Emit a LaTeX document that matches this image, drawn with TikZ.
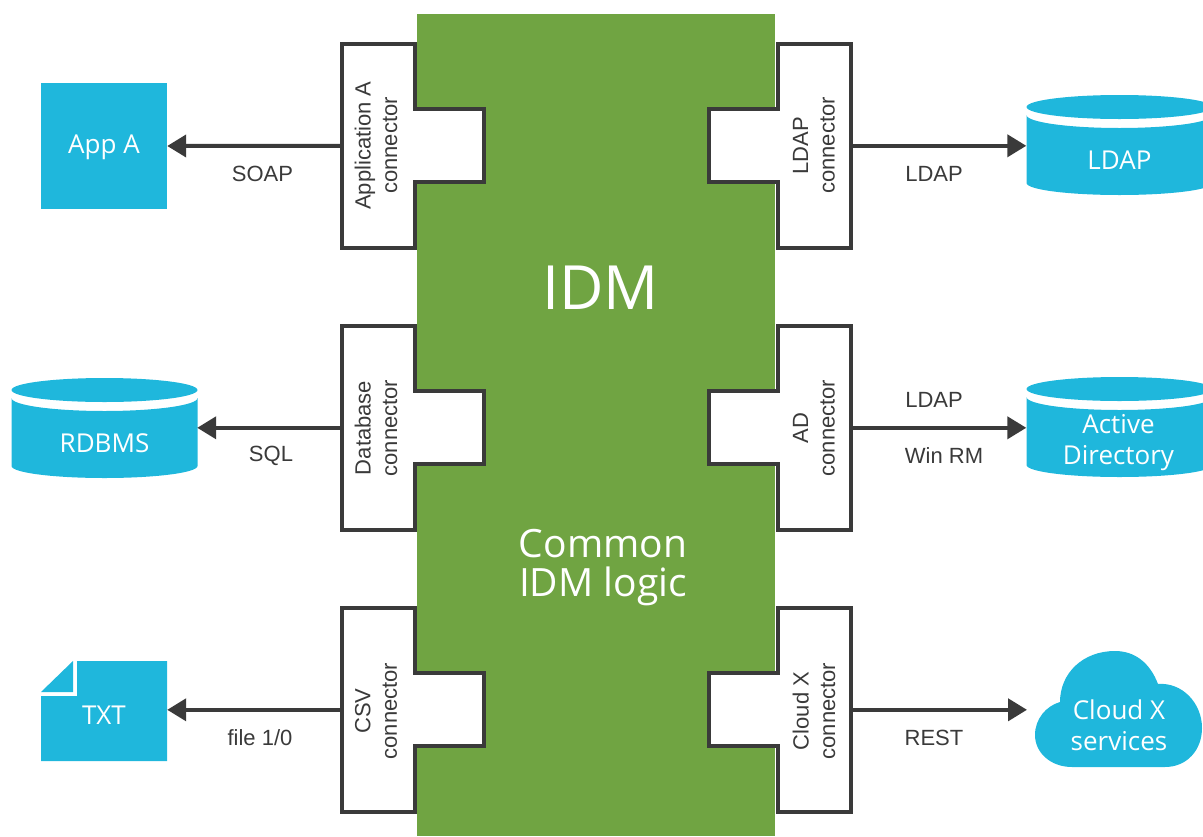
\documentclass[tikz,border=0pt]{standalone}
\usepackage{fontspec}
\setmainfont{Liberation Sans}
\newfontfamily\myr{Open Sans}
\usetikzlibrary{arrows.meta}
\definecolor{idmgreen}{HTML}{70A442}
\definecolor{idmblue}{HTML}{1FB7DC}
\definecolor{idmdark}{HTML}{3A3A3A}
\tikzset{
  x=1pt,y=-1pt,
  connbody/.style={draw=idmdark,line width=4pt,fill=white,miter limit=10},
  connanchor/.style={inner sep=0pt,minimum width=#1,minimum height=204pt},
  conntext/.style={rotate=90,align=center,font=\fontsize{22}{26.5}\selectfont,text=idmdark,inner sep=0pt},
  proto/.style={font=\fontsize{22}{26}\selectfont,text=idmdark,inner sep=0pt},
  link/.style={draw=idmdark,line width=4pt,-{Triangle[length=19pt,width=22pt]},shorten >=0pt},
  shapefill/.style={fill=idmblue,draw=none},
  shapetext/.style={text=white,align=center,font=\myr\fontsize{26}{31}\selectfont,inner sep=0pt},
  anchorbox/.style={inner sep=0pt,minimum width=#1,minimum height=100pt},
  greentext/.style={text=white,align=center,inner sep=0pt},
}
% name, side sign, outer-x, top-y
\newcommand\connshape[4]{%
  \draw[connbody,xscale=#2] (#3,#4) -- ++(73,0) -- ++(0,65.3) -- ++(69,0) -- ++(0,73) -- ++(-69,0) -- ++(0,66) -- ++(-73,0) -- cycle;
}
\newcommand\cylshape[3]{% name, cx, top
  \fill[idmblue] (#2,#3+12) ellipse[x radius=93,y radius=12];
  \fill[idmblue] (#2-93,#3+20) arc[start angle=180,end angle=360,x radius=93,y radius=-13] -- (#2+93,#3+88)
     arc[start angle=0,end angle=-180,x radius=93,y radius=-12] -- cycle;
}
\begin{document}
\begin{tikzpicture}
\useasboundingbox (0,0) rectangle (1203,836);
\clip (0,0) rectangle (1203,836);
% core
\fill[idmgreen] (417,14) rectangle (775,836);
\node[greentext,font=\myr\fontsize{61}{70}\selectfont] (idm) at (600.5,288) {IDM};
\node[greentext,font=\myr\fontsize{39}{39.5}\selectfont] (logic) at (603,567.5) {Common\\IDM logic};
% connector bodies
\connshape{a}{1}{342}{43.7}
\connshape{b}{1}{342}{325.7}
\connshape{c}{1}{342}{607.7}
\connshape{d}{-1}{-851}{43.7}
\connshape{e}{-1}{-851}{325.7}
\connshape{f}{-1}{-851}{607.7}
% connector anchors
\node[connanchor=73pt] (ca) at (378.5,145.8) {};
\node[connanchor=73pt] (cb) at (378.5,427.8) {};
\node[connanchor=73pt] (cc) at (378.5,709.8) {};
\node[connanchor=73pt] (cd) at (814.5,145.8) {};
\node[connanchor=73pt] (ce) at (814.5,427.8) {};
\node[connanchor=73pt] (cf) at (814.5,709.8) {};
% connector labels
\node[conntext] (ta) at (376,145.5) {Application A\\connector};
\node[conntext] (tb) at (376,428) {Database\\connector};
\node[conntext] (tc) at (376,711) {CSV\\connector};
\node[conntext] (td) at (814,145.5) {LDAP\\connector};
\node[conntext] (te) at (814,428) {AD\\connector};
\node[conntext] (tf) at (814,711) {Cloud X\\connector};
% App A
\node[shapefill,minimum width=126pt,minimum height=126pt,inner sep=0pt] (appa) at (104,146) {};
\node[shapetext] (appat) at (104,147.5) {App A};
% RDBMS
\cylshape{r}{104.5}{378}
\node[anchorbox=185pt] (rdbms) at (104.5,427.8) {};
\node[shapetext] (rdbmst) at (104.5,443) {RDBMS};
% TXT
\fill[idmblue] (41,692) -- (73,661) -- (73,692) -- cycle;
\fill[idmblue] (77,661) -- (167,661) -- (167,761) -- (41,761) -- (41,696) -- (77,696) -- cycle;
\node[inner sep=0pt,minimum width=126pt,minimum height=100pt] (txt) at (104,709.8) {};
\node[shapetext] (txtt) at (104,715) {TXT};
% LDAP
\cylshape{l}{1119.5}{95}
\node[anchorbox=186pt] (ldap) at (1119.5,145.8) {};
\node[shapetext] (ldapt) at (1119.5,160) {LDAP};
% AD
\cylshape{ad}{1119.5}{377}
\node[anchorbox=186pt] (ad) at (1119.5,427.8) {};
\node[shapetext,font=\myr\fontsize{26}{31.5}\selectfont] (adt) at (1118.5,442.5) {Active\\Directory};
% Cloud
\fill[idmblue] (1072,767) -- (1165,767)
  .. controls (1187,767) and (1202,750) .. (1202,728)
  .. controls (1202,703) and (1182,682) .. (1158,684)
  .. controls (1150,663) and (1135,651) .. (1115,651)
  .. controls (1083,651) and (1060,673) .. (1060,702)
  .. controls (1046,706) and (1035,719) .. (1035,735)
  .. controls (1035,753) and (1051,767) .. (1072,767) -- cycle;
\coordinate (cloud) at (1027,709.8);
\node[shapetext,font=\myr\fontsize{26}{31.5}\selectfont] (cloudt) at (1119,725) {Cloud X\\services};
% links
\draw[link] (ca.west) -- (appa.east);
\draw[link] (cb.west) -- (rdbms.east);
\draw[link] (cc.west) -- (txt.east);
\draw[link] (cd.east) -- (ldap.west);
\draw[link] (ce.east) -- (ad.west);
\draw[link] (cf.east) -- (cloud);
% protocols
\node[proto] (p1) at (262.5,174) {SOAP};
\node[proto] (p2) at (271,456) {SQL};
\node[proto] (p3) at (260,738) {file 1/0};
\node[proto] (p4) at (934,174) {LDAP};
\node[proto] (p5) at (934,400) {LDAP};
\node[proto] (p6) at (944,456) {Win RM};
\node[proto] (p7) at (934,738) {REST};
\end{tikzpicture}
\end{document}
